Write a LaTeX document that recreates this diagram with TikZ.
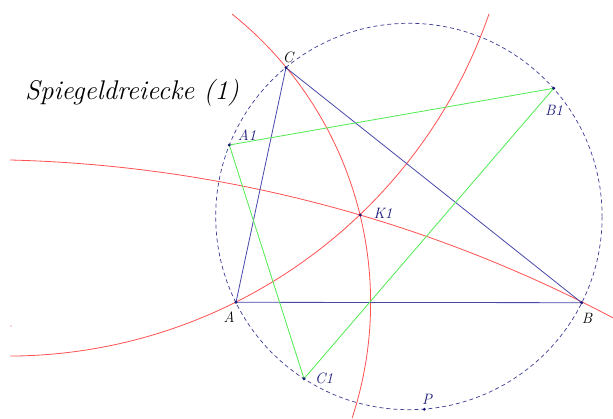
\documentclass[tikz,border=0pt]{standalone}
\usetikzlibrary{calc}
\definecolor{tri}{RGB}{72,72,170}
\definecolor{circ}{RGB}{60,60,150}
\definecolor{grn}{RGB}{80,235,80}
\definecolor{rd}{RGB}{255,80,80}
\definecolor{lab}{RGB}{25,25,120}
\tikzset{
  triline/.style={draw=tri, line width=0.8pt},
  grline/.style={draw=grn, line width=0.8pt},
  redarc/.style={draw=rd, line width=0.8pt},
  dashcirc/.style={draw=circ, line width=0.7pt, dash pattern=on 4pt off 3pt},
  pt/.style={fill=lab, circle, inner sep=0pt, minimum size=3.2pt},
  blk/.style={font=\itshape\fontsize{15}{17}\selectfont, text=black, inner sep=0pt},
  nav/.style={font=\itshape\fontsize{15}{17}\selectfont, text=lab, inner sep=0pt},
}
\begin{document}
\begin{tikzpicture}[x=1pt,y=-1pt]
\useasboundingbox[fill=white] (0,0) rectangle (613,419);
% points
\coordinate (A) at (236,302.3);
\coordinate (B) at (581.7,302.7);
\coordinate (C) at (286,67.7);
\coordinate (A1) at (229.3,145);
\coordinate (B1) at (553.7,88.3);
\coordinate (C1) at (304,378.7);
\coordinate (K1) at (360.3,215);
\coordinate (P) at (424.3,409.3);
\coordinate (O) at (408.9,216.5);
% circumcircle
\draw[dashcirc] (O) circle[radius=193.2];
% red Apollonius arcs
\draw[redarc] (232,14) arc[start angle=-51.3, end angle=18.2, radius=369.8];
\draw[redarc] (489,14) arc[start angle=19.2, end angle=89.7, radius=509.7];
\draw[redarc] (10,160) arc[start angle=-88.53, end angle=-62.1, radius=1364.5];
\fill[rd] (11,326) circle[radius=0.6];
% triangle
\draw[triline] (A) -- (B) -- (C) -- cycle;
% mirror triangle
\draw[grline] (A1) -- (B1) -- (C1) -- cycle;
% dots
\foreach \p in {A,B,C,A1,B1,C1,K1,P} \node[pt] at (\p) {};
% labels
\node[blk] (lC) at (288,57) {C};
\node[blk] (lA) at (229,317) {A};
\node[blk] (lB) at (587,318) {B};
\node[nav] (lA1) at (247,135) {A1};
\node[nav] (lB1) at (554,110) {B1};
\node[nav] (lC1) at (324,378) {C1};
\node[nav] (lK1) at (383,213) {K1};
\node[nav] (lP) at (427,399) {P};
\node[font=\itshape\fontsize{27}{30}\selectfont, inner sep=0pt] (title) at (132,93) {Spiegeldreiecke (1)};
\end{tikzpicture}
\end{document}
